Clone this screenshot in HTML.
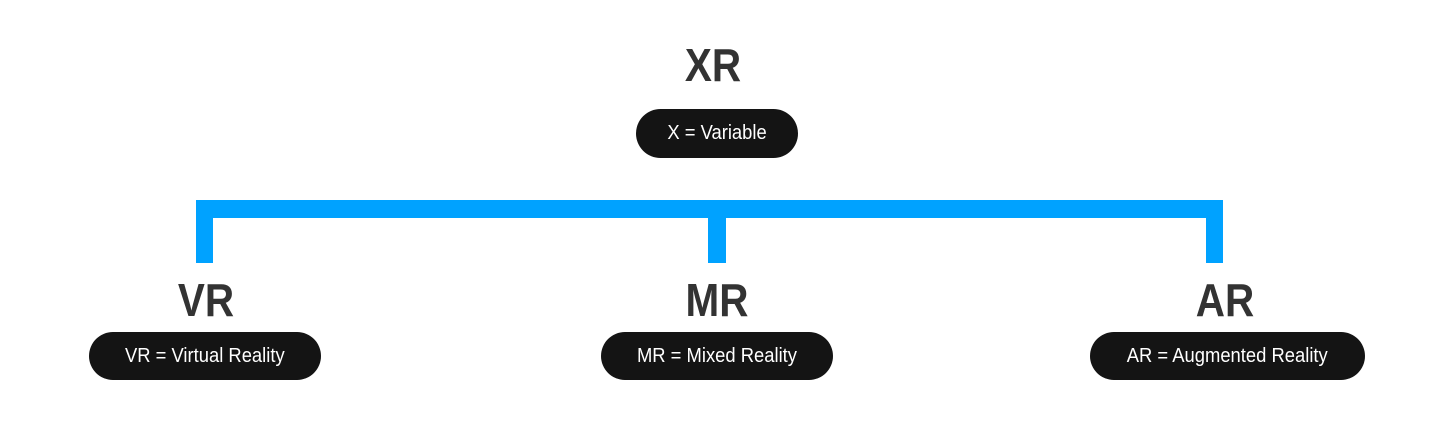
<!DOCTYPE html>
<html><head><style>
body{margin:0;width:1451px;height:442px;background:#fff;position:relative;overflow:hidden;font-family:"Liberation Sans",sans-serif}
.b{position:absolute;background:#00a2ff}
.t{position:absolute;font-weight:bold;font-size:46px;color:#333;text-align:center;width:200px;line-height:46px;transform:scaleX(0.88)}
.p{position:absolute;background:#141414;color:#fff;border-radius:25px;font-size:20px;display:flex;align-items:center;justify-content:center;height:48px}
.p span{display:inline-block;transform:scaleX(0.92)}
</style></head><body>
<div class="b" style="left:196px;top:200px;width:1027px;height:18px"></div>
<div class="b" style="left:196px;top:200px;width:17px;height:63px"></div>
<div class="b" style="left:708px;top:200px;width:18px;height:63px"></div>
<div class="b" style="left:1206px;top:200px;width:17px;height:63px"></div>
<div class="t" style="left:613px;top:42px">XR</div>
<div class="p" style="left:636px;top:109px;width:162px;height:49px"><span>X = Variable</span></div>
<div class="t" style="left:106px;top:277px">VR</div>
<div class="p" style="left:89px;top:332px;width:232px"><span>VR = Virtual Reality</span></div>
<div class="t" style="left:617px;top:277px">MR</div>
<div class="p" style="left:601px;top:332px;width:232px"><span>MR = Mixed Reality</span></div>
<div class="t" style="left:1125px;top:277px">AR</div>
<div class="p" style="left:1090px;top:332px;width:275px"><span>AR = Augmented Reality</span></div>
</body></html>
